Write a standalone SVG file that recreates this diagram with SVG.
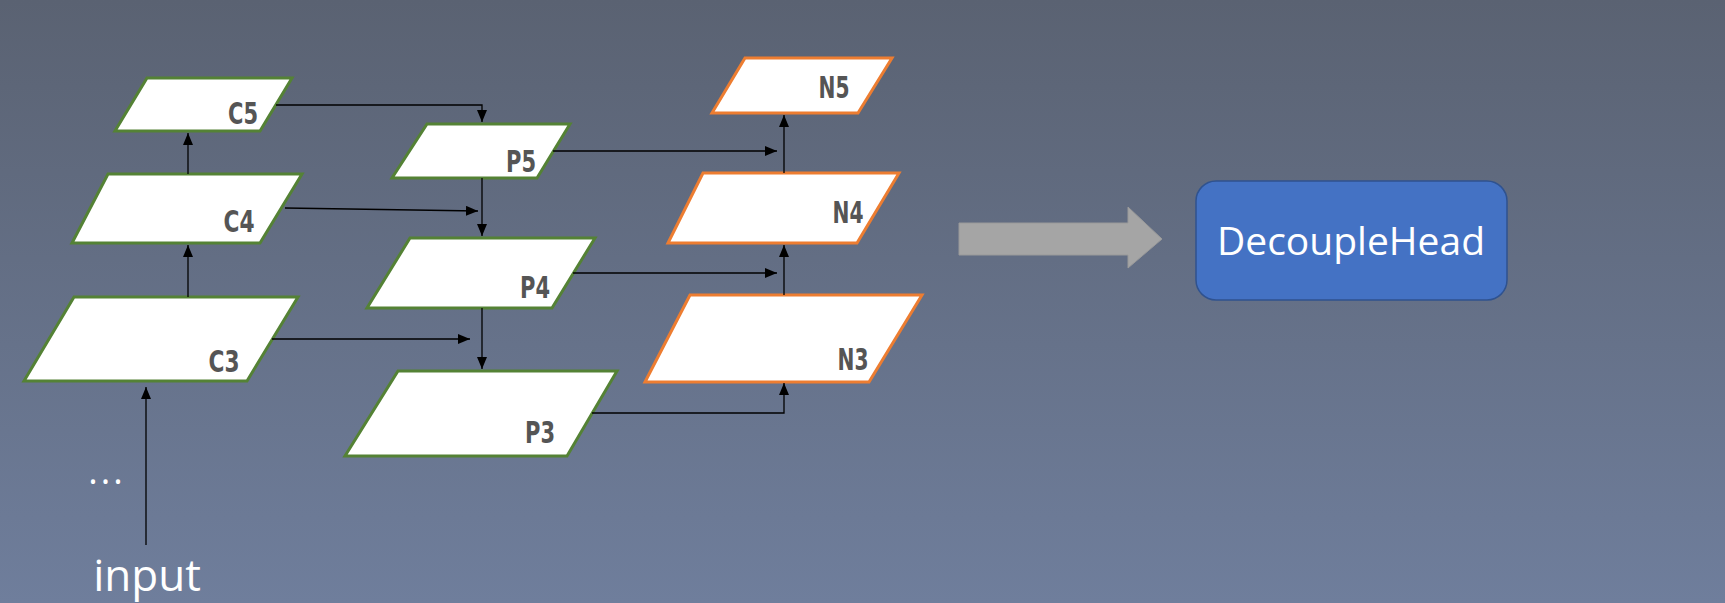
<svg xmlns="http://www.w3.org/2000/svg" width="1725" height="603" viewBox="0 0 1725 603">
<defs>
<linearGradient id="bg" x1="0" y1="0" x2="0" y2="1">
<stop offset="0" stop-color="#5a6272"/>
<stop offset="1" stop-color="#6f7e9c"/>
</linearGradient>
<marker id="ah" markerUnits="userSpaceOnUse" markerWidth="13" markerHeight="11" refX="12" refY="5" orient="auto">
<path d="M0,0 L12,5 L0,10 z" fill="#000"/>
</marker>
<style>
.g{fill:#fff;stroke:#548235;stroke-width:3;stroke-linejoin:miter}
.o{fill:#fff;stroke:#ed7d31;stroke-width:3;stroke-linejoin:miter}
.lbl{font-family:"DejaVu Sans Condensed","DejaVu Sans",sans-serif;font-weight:bold;font-size:30px;fill:#555;text-anchor:middle}
.c{fill:none;stroke:#000;stroke-width:1.3;marker-end:url(#ah)}
.w{font-family:"Open Sans","Noto Sans",sans-serif;fill:#fff}
</style>
</defs>
<rect width="1725" height="603" fill="url(#bg)"/>
<g id="C5"><polygon class="g" points="147,78 292,78 260,131 115,131"/><text class="lbl" x="243" y="124" textLength="30" lengthAdjust="spacingAndGlyphs">C5</text></g>
<g id="C4"><polygon class="g" points="108,174 302,174 260,243 72,243"/><text class="lbl" x="239" y="232" textLength="31" lengthAdjust="spacingAndGlyphs">C4</text></g>
<g id="C3"><polygon class="g" points="74,297 298,297 247,381 24,381"/><text class="lbl" x="224" y="372" textLength="31" lengthAdjust="spacingAndGlyphs">C3</text></g>
<g id="P5"><polygon class="g" points="427,124 570,124 537,178 392,178"/><text class="lbl" x="521" y="172" textLength="30" lengthAdjust="spacingAndGlyphs">P5</text></g>
<g id="P4"><polygon class="g" points="410,238 595,238 552,308 367,308"/><text class="lbl" x="535" y="298" textLength="30" lengthAdjust="spacingAndGlyphs">P4</text></g>
<g id="P3"><polygon class="g" points="398,371 617,371 567,456 345,456"/><text class="lbl" x="540" y="443" textLength="30" lengthAdjust="spacingAndGlyphs">P3</text></g>
<g id="N5"><polygon class="o" points="745,58 892,58 858,113 712,113"/><text class="lbl" x="834" y="98" textLength="31" lengthAdjust="spacingAndGlyphs">N5</text></g>
<g id="N4"><polygon class="o" points="703,173 899,173 857,243 668,243"/><text class="lbl" x="848" y="223" textLength="31" lengthAdjust="spacingAndGlyphs">N4</text></g>
<g id="N3"><polygon class="o" points="690,295 922,295 869,382 645,382"/><text class="lbl" x="853" y="370" textLength="31" lengthAdjust="spacingAndGlyphs">N3</text></g>
<g id="input"><text class="w" x="147" y="591" font-size="44" text-anchor="middle">input</text></g>
<g id="dots"><text class="w" x="107" y="484" font-size="36" letter-spacing="3" text-anchor="middle">...</text></g>
<g id="bigArrow"><polygon points="959,223 1128,223 1128,207 1162,239 1128,268 1128,255 959,255" fill="#a5a5a5" stroke="#999" stroke-width="1"/></g>
<g id="DecoupleHead"><rect x="1196" y="181" width="311" height="119" rx="20" ry="20" fill="#4472c4" stroke="#2f528f" stroke-width="1.5"/><text class="w" x="1351" y="255" font-size="39" text-anchor="middle">DecoupleHead</text></g>
<g id="connectors">
<path class="c" d="M188,174 V133"/>
<path class="c" d="M188,297 V245"/>
<path class="c" d="M146,545 V387"/>
<path class="c" d="M276,105 H482 V122"/>
<path class="c" d="M285,208 L478,211"/>
<path class="c" d="M272,339 H470"/>
<path class="c" d="M482,178 V236"/>
<path class="c" d="M482,308 V369"/>
<path class="c" d="M553,151 H777"/>
<path class="c" d="M573,273 H777"/>
<path class="c" d="M592,413 H784 V383"/>
<path class="c" d="M784,173 V115"/>
<path class="c" d="M784,295 V245"/>
</g>
</svg>
